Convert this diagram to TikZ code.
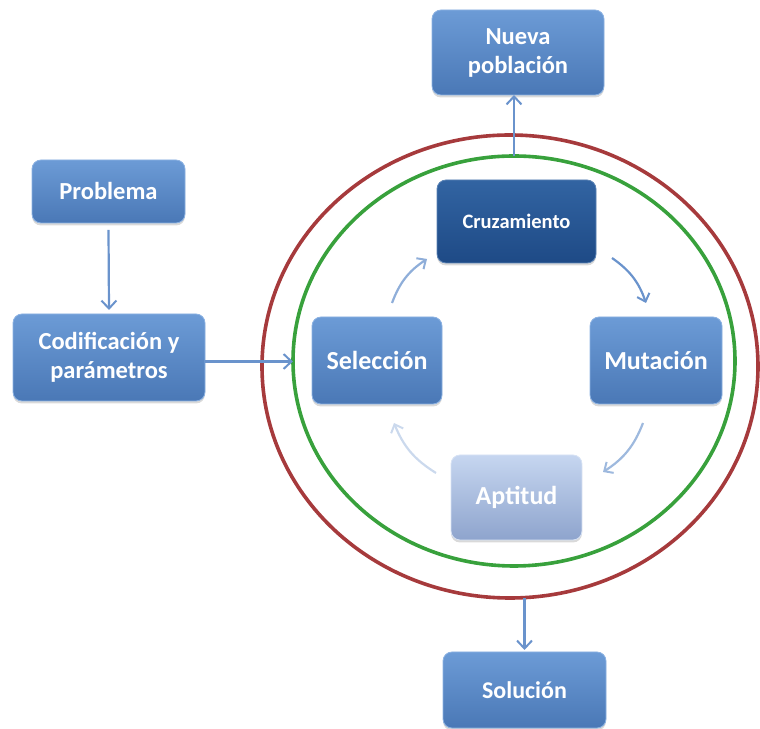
\documentclass[tikz,border=0pt]{standalone}
\usepackage{fontspec}
\setmainfont{Carlito}
\usetikzlibrary{shapes.geometric,arrows.meta,calc,shadows}

\definecolor{boxtop}{HTML}{6C9BD6}
\definecolor{boxbot}{HTML}{4A78B6}
\definecolor{boxrim}{HTML}{8CB2E2}
\definecolor{darktop}{HTML}{3264A2}
\definecolor{darkbot}{HTML}{1E4A86}
\definecolor{lighttop}{HTML}{C6D6F0}
\definecolor{lightbot}{HTML}{8EA4CD}
\definecolor{ringred}{HTML}{A63A3C}
\definecolor{ringgreen}{HTML}{38A13C}
\definecolor{flow}{HTML}{6A93CC}

\tikzset{
  stagebox/.style={rounded corners=9pt, inner sep=2pt, outer sep=0pt,
    top color=boxtop, bottom color=boxbot, draw=boxrim, line width=0.8pt,
    text=white, align=center, font=\bfseries,
    drop shadow={opacity=0.3, shadow xshift=0pt, shadow yshift=-2.5pt}},
  darkbox/.style={stagebox, top color=darktop, bottom color=darkbot, draw=darktop!80!white},
  lightbox/.style={stagebox, top color=lighttop, bottom color=lightbot, draw=lighttop!70!white},
  ring/.style={ellipse, inner sep=0pt, outer sep=0pt, line width=3.6pt},
  bigtext/.style={font=\bfseries\fontsize{24.5}{29}\selectfont},
  cycletext/.style={font=\bfseries\fontsize{26}{30}\selectfont},
  flowarrow/.style={draw=flow, line width=2.2pt,
    -{Straight Barb[length=8pt, width=15pt, line width=2pt]}},
  cyclearrow/.style={line width=2.2pt,
    -{Straight Barb[length=7pt, width=13pt, line width=2pt]}}
}

\begin{document}
\begin{tikzpicture}[x=1pt, y=1pt]
  \useasboundingbox (0,0) rectangle (760,728);

  % the two rings around the evolutionary cycle
  \node[ring, draw=ringred, minimum width=496pt, minimum height=463pt] (outer) at (510,361.5) {};
  \node[ring, draw=ringgreen, minimum width=442pt, minimum height=410pt] (inner) at (514,367) {};

  % outside the cycle
  \node[stagebox, bigtext, minimum width=172pt, minimum height=85pt] (nueva) at (518,675.5) {Nueva\\población};
  \node[stagebox, bigtext, minimum width=153pt, minimum height=63pt] (prob) at (108.5,536.5) {Problema};
  \node[stagebox, bigtext, minimum width=192pt, minimum height=87pt] (cod) at (109,370.5) {Codificación y\\parámetros};
  \node[stagebox, font=\bfseries\fontsize{24}{28}\selectfont, minimum width=163pt, minimum height=76pt] (sol) at (524.5,38) {Solución};

  % the cycle
  \node[darkbox, font=\bfseries\fontsize{20.5}{24}\selectfont, minimum width=159pt, minimum height=83pt] (cruz) at (516.5,506.5) {Cruzamiento};
  \node[stagebox, cycletext, minimum width=130pt, minimum height=87pt] (sel) at (377,367.5) {Selección};
  \node[stagebox, cycletext, minimum width=132pt, minimum height=87pt] (mut) at (656,367.5) {Mutación};
  \node[lightbox, cycletext, minimum width=131pt, minimum height=85pt] (apt) at (516.5,230.5) {Aptitud};

  % straight connectors
  \draw[flowarrow] (prob.south) ++(0,-7) -- ($(cod.north)+(0,4)$);
  \draw[flowarrow] (cod.east) ++(0,-4) -- (inner.west |- {$(cod.east)+(0,-4)$});
  \draw[flowarrow] (inner.north) -- (inner.north |- nueva.south);
  \draw[flowarrow] (sol.north |- outer.south) -- ($(sol.north)+(0,2)$);

  % cycle arrows
  \draw[cyclearrow, draw=flow!75!white] ($(sel.north)+(15,14)$) to[bend left=18] ($(cruz.south west)+(-10,4)$);
  \draw[cyclearrow, draw=flow] ($(cruz.south east)+(16,5)$) to[bend left=18] ($(mut.north)+(-10,14)$);
  \draw[cyclearrow, draw=flow!65!white] ($(mut.south)+(-13,-19)$) to[bend left=18] ($(apt.north east)+(21,-17)$);
  \draw[cyclearrow, draw=flow!35!white] ($(apt.north west)+(-15,-18)$) to[bend left=18] ($(sel.south)+(17,-19)$);
\end{tikzpicture}
\end{document}
